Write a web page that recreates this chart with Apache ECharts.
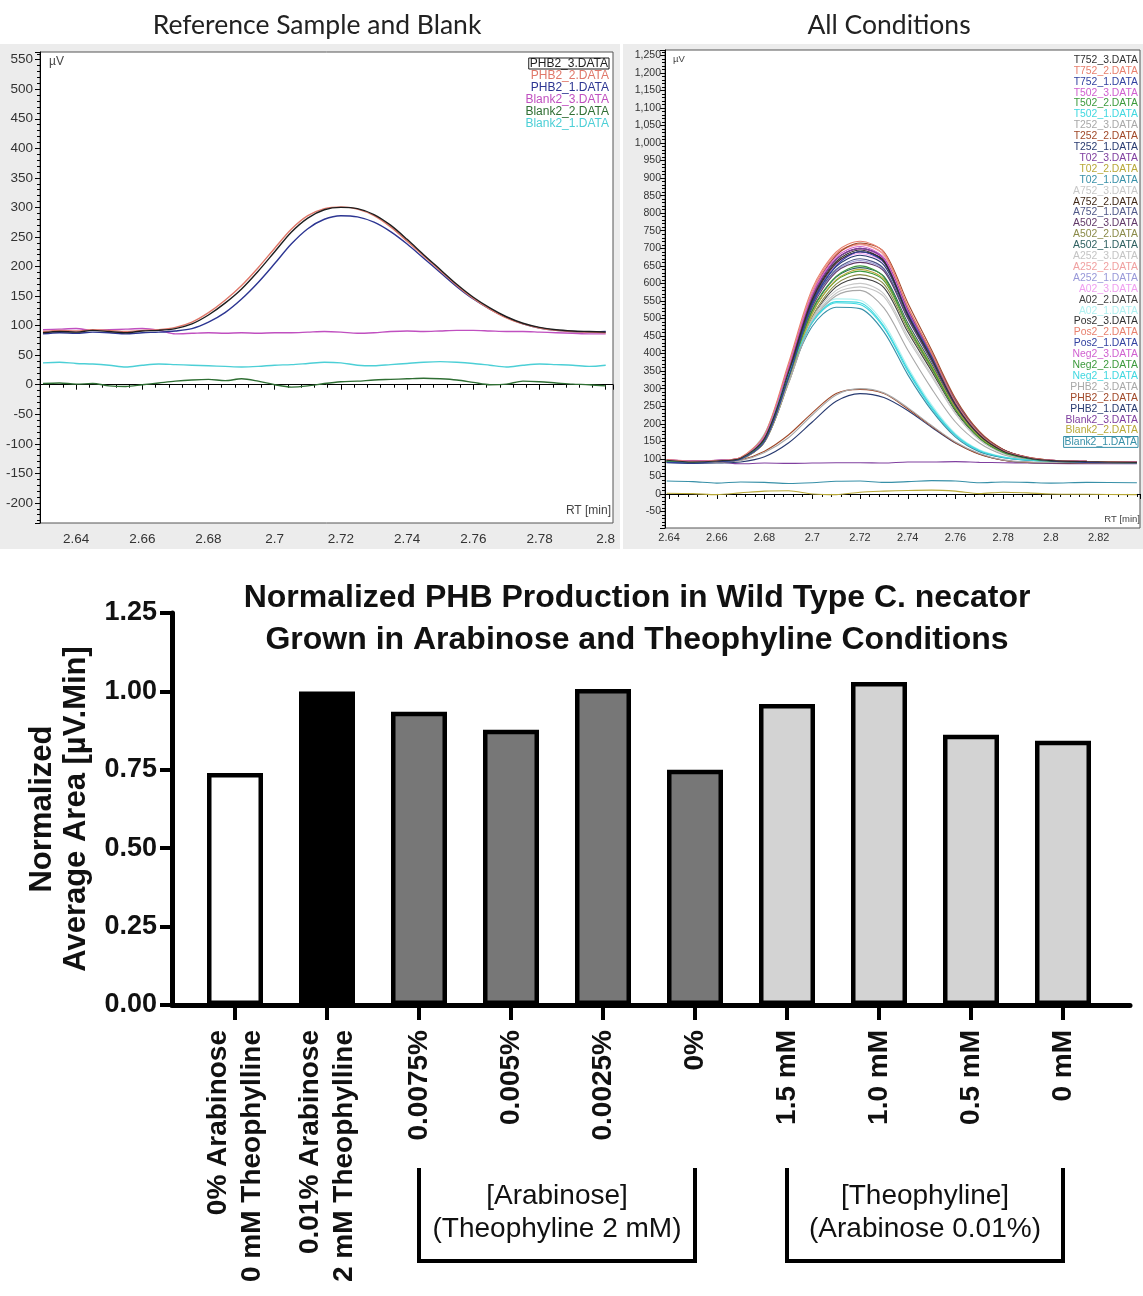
<!DOCTYPE html>
<html>
<head>
<meta charset="utf-8">
<title>PHB chromatograms and normalized production</title>
<script src="https://cdn.jsdelivr.net/npm/echarts@6.0.0/dist/echarts.min.js"></script>
<style>
  html, body { margin: 0; padding: 0; background: #fff; }
  #chart { width: 1143px; height: 1296px; }
</style>
</head>
<body>
<div id="chart"></div>
<script>
// [Top left] Reference Sample and Blank - retention time (min) and signal (µV)
const refRT = [2.630, 2.635, 2.640, 2.645, 2.650, 2.655, 2.660, 2.665, 2.670, 2.675, 2.680, 2.685,
  2.690, 2.695, 2.700, 2.705, 2.710, 2.715, 2.720, 2.725, 2.730, 2.735, 2.740, 2.745, 2.750, 2.755,
  2.760, 2.765, 2.770, 2.775, 2.780, 2.785, 2.790, 2.795, 2.800]
const refPHB2_3 = [88, 90, 89, 92, 90, 88, 91, 92, 95, 103, 118, 138, 162, 192, 225, 258, 282, 296, 300, 298, 288, 270, 246, 220, 195, 170, 148, 130, 115, 104, 97, 93, 91, 90, 89]
const refPHB2_2 = [90, 92, 91, 93, 92, 90, 92, 93, 97, 106, 122, 143, 168, 198, 231, 263, 286, 298, 301, 297, 286, 267, 243, 218, 193, 168, 146, 128, 113, 103, 96, 92, 90, 89, 88]
const refPHB2_1 = [86, 88, 87, 89, 88, 86, 88, 89, 91, 95, 106, 122, 145, 173, 205, 238, 264, 280, 286, 284, 275, 259, 238, 214, 190, 166, 145, 128, 114, 103, 96, 92, 90, 89, 90]
const refBlank2_3 = [93, 94, 95, 92, 93, 94, 95, 92, 86, 87, 88, 87, 88, 87, 88, 88, 89, 90, 89, 87, 88, 90, 91, 90, 91, 92, 92, 91, 90, 90, 89, 88, 87, 86, 86]
const refBlank2_2 = [2, 3, 1, 2, -2, -3, 0, 3, 6, 8, 9, 7, 10, 6, 0, -4, -2, 2, 5, 6, 8, 9, 10, 11, 10, 8, 4, 0, 1, 6, 5, 3, 1, 0, -2]
const refBlank2_1 = [37, 38, 36, 35, 33, 30, 33, 35, 34, 33, 32, 31, 30, 31, 33, 34, 36, 38, 37, 33, 32, 34, 36, 38, 39, 38, 36, 33, 30, 33, 35, 34, 33, 31, 33]
const refNames = ['PHB2_3.DATA', 'PHB2_2.DATA', 'PHB2_1.DATA', 'Blank2_3.DATA', 'Blank2_2.DATA', 'Blank2_1.DATA']
const refValues = [refPHB2_3, refPHB2_2, refPHB2_1, refBlank2_3, refBlank2_2, refBlank2_1]
const refColors = ['#1e1e1e', '#e0786a', '#2c3592', '#c050c0', '#2f6e33', '#4ccfd6']

// [Top right] All Conditions
const allRT = [2.639, 2.65, 2.66, 2.67, 2.68, 2.69, 2.70, 2.71, 2.72, 2.73, 2.74, 2.75, 2.76, 2.77, 2.78, 2.79, 2.80, 2.815, 2.836]
const T752_3 = [96, 91, 94, 102, 158, 345, 555, 662, 695, 662, 510, 385, 255, 168, 122, 103, 95, 92, 90]
const T752_2 = [98, 93, 95, 104, 170, 372, 585, 690, 720, 688, 535, 400, 262, 172, 124, 104, 96, 93, 91]
const T752_1 = [90, 88, 92, 99, 150, 330, 540, 650, 690, 660, 515, 392, 262, 172, 124, 103, 94, 90, 88]
const T502_3 = [97, 94, 96, 103, 165, 360, 570, 675, 705, 672, 520, 392, 258, 170, 123, 104, 96, 93, 92]
const T502_2 = [92, 90, 93, 100, 155, 330, 525, 620, 650, 618, 478, 360, 240, 160, 118, 101, 93, 91, 89]
const T502_1 = [94, 91, 95, 101, 168, 340, 490, 548, 545, 478, 355, 248, 168, 124, 105, 97, 94, 92, 90]
const T252_3 = [93, 90, 92, 99, 150, 320, 490, 565, 580, 530, 410, 300, 205, 145, 112, 99, 93, 91, 90]
const T252_2 = [95, 92, 95, 103, 162, 355, 568, 680, 715, 690, 545, 410, 272, 178, 127, 105, 96, 93, 91]
const T252_1 = [91, 89, 93, 100, 152, 335, 545, 648, 680, 652, 512, 390, 262, 172, 125, 104, 95, 92, 90]
const T02_3 = [97, 93, 96, 102, 160, 352, 562, 668, 700, 670, 525, 398, 265, 174, 126, 104, 96, 93, 91]
const T02_2 = [92, 90, 93, 99, 150, 322, 515, 610, 640, 612, 480, 365, 245, 163, 120, 102, 94, 91, 89]
const T02_1 = [93, 91, 94, 100, 165, 332, 478, 532, 528, 462, 340, 238, 162, 120, 103, 96, 93, 91, 90]
const A752_3 = [94, 91, 93, 99, 152, 318, 500, 580, 600, 570, 450, 340, 230, 155, 116, 100, 93, 91, 89]
const A752_2 = [95, 92, 94, 101, 158, 345, 552, 658, 690, 665, 520, 392, 260, 172, 124, 103, 95, 92, 90]
const A752_1 = [93, 90, 93, 100, 155, 338, 540, 640, 670, 642, 505, 382, 255, 168, 122, 102, 94, 91, 89]
const A502_3 = [94, 92, 94, 101, 156, 335, 532, 632, 660, 635, 500, 378, 252, 167, 122, 102, 94, 92, 90]
const A502_2 = [92, 90, 92, 99, 148, 318, 505, 598, 625, 598, 470, 356, 240, 160, 119, 101, 93, 91, 89]
const A502_1 = [93, 91, 93, 100, 152, 328, 522, 618, 645, 620, 488, 370, 248, 165, 121, 102, 94, 91, 90]
const A252_3 = [92, 90, 92, 99, 150, 315, 495, 572, 590, 562, 442, 335, 228, 154, 116, 100, 93, 91, 89]
const A252_2 = [96, 93, 95, 103, 166, 362, 575, 682, 710, 680, 530, 400, 265, 175, 126, 105, 96, 93, 91]
const A252_1 = [93, 91, 93, 100, 154, 336, 538, 636, 665, 638, 502, 380, 254, 168, 122, 102, 94, 91, 90]
const A02_3 = [95, 92, 94, 101, 160, 348, 555, 655, 685, 658, 515, 390, 260, 171, 124, 103, 95, 92, 90]
const A02_2 = [92, 90, 92, 99, 148, 315, 500, 590, 615, 588, 462, 350, 236, 158, 118, 101, 93, 91, 89]
const A02_1 = [94, 92, 95, 102, 172, 348, 500, 556, 552, 486, 362, 254, 172, 126, 106, 98, 94, 92, 90]
const Pos2_3 = [96, 93, 95, 102, 158, 348, 560, 668, 700, 672, 528, 400, 266, 175, 126, 104, 96, 93, 91]
const Pos2_2 = [97, 94, 96, 104, 168, 365, 578, 685, 712, 682, 532, 402, 266, 175, 126, 105, 96, 93, 91]
const Pos2_1 = [94, 91, 94, 101, 155, 340, 548, 655, 690, 664, 522, 395, 262, 173, 125, 104, 95, 92, 90]
const Neg2_3 = [96, 93, 95, 102, 162, 355, 565, 670, 698, 668, 522, 395, 262, 172, 125, 104, 95, 92, 91]
const Neg2_2 = [92, 90, 93, 100, 152, 325, 515, 608, 635, 608, 478, 362, 244, 162, 120, 102, 94, 91, 89]
const Neg2_1 = [93, 91, 94, 101, 170, 342, 488, 545, 540, 474, 350, 244, 166, 122, 104, 96, 93, 91, 89]
const PHB2_3 = [92, 90, 91, 95, 118, 160, 225, 282, 300, 288, 246, 195, 148, 115, 97, 91, 90, 89, 88]
const PHB2_2 = [94, 92, 92, 97, 122, 168, 231, 286, 298, 286, 243, 193, 146, 113, 96, 90, 89, 88, 88]
const PHB2_1 = [89, 87, 88, 91, 106, 145, 205, 264, 286, 275, 238, 190, 145, 114, 96, 90, 89, 88, 87]
const Blank2_3 = [93, 95, 92, 86, 88, 87, 88, 89, 89, 88, 91, 91, 92, 90, 89, 88, 87, 86, 86]
const Blank2_2 = [2, 1, -2, 3, 8, 9, 0, -2, 5, 8, 10, 11, 8, 1, 5, 3, 0, -1, -2]
const Blank2_1 = [37, 35, 31, 34, 33, 30, 32, 36, 37, 33, 35, 38, 37, 32, 34, 33, 31, 33, 32]
const allNames = ['T752_3.DATA', 'T752_2.DATA', 'T752_1.DATA', 'T502_3.DATA', 'T502_2.DATA', 'T502_1.DATA',
  'T252_3.DATA', 'T252_2.DATA', 'T252_1.DATA', 'T02_3.DATA', 'T02_2.DATA', 'T02_1.DATA',
  'A752_3.DATA', 'A752_2.DATA', 'A752_1.DATA', 'A502_3.DATA', 'A502_2.DATA', 'A502_1.DATA',
  'A252_3.DATA', 'A252_2.DATA', 'A252_1.DATA', 'A02_3.DATA', 'A02_2.DATA', 'A02_1.DATA',
  'Pos2_3.DATA', 'Pos2_2.DATA', 'Pos2_1.DATA', 'Neg2_3.DATA', 'Neg2_2.DATA', 'Neg2_1.DATA',
  'PHB2_3.DATA', 'PHB2_2.DATA', 'PHB2_1.DATA', 'Blank2_3.DATA', 'Blank2_2.DATA', 'Blank2_1.DATA']
const allValues = [T752_3, T752_2, T752_1, T502_3, T502_2, T502_1, T252_3, T252_2, T252_1, T02_3, T02_2, T02_1,
  A752_3, A752_2, A752_1, A502_3, A502_2, A502_1, A252_3, A252_2, A252_1, A02_3, A02_2, A02_1,
  Pos2_3, Pos2_2, Pos2_1, Neg2_3, Neg2_2, Neg2_1, PHB2_3, PHB2_2, PHB2_1, Blank2_3, Blank2_2, Blank2_1]

// Chromeleon style colour cycles
const cycleA = ['#303030', '#e8806e', '#3242a0', '#d060d0', '#3c9a3c', '#40d8e0', '#a8a8a8', '#a04828', '#283a70', '#8040a0', '#b8a838', '#3890a8']
const cycleB = ['#c8c8c8', '#402818', '#505888', '#603868', '#8a8a48', '#2e6060', '#c4c4c4', '#f0a0a0', '#9898d8', '#f0a0f0', '#404040', '#b0f0f0']
const allColors = [...cycleA, ...cycleB, ...cycleA]

// [Bottom] Normalized PHB production
const barCategories = ['0% Arabinose\n0 mM Theophylline', '0.01% Arabinose\n2 mM Theophylline', '0.0075%', '0.005%', '0.0025%', '0%', '1.5 mM', '1.0 mM', '0.5 mM', '0 mM']
const barValues = [0.74, 1.00, 0.935, 0.878, 1.008, 0.75, 0.96, 1.03, 0.862, 0.843]
const barFills = ['#ffffff', '#000000', '#777777', '#777777', '#777777', '#777777', '#d3d3d3', '#d3d3d3', '#d3d3d3', '#d3d3d3']
const yTicks = [0, 0.25, 0.5, 0.75, 1.0, 1.25]

const FONT = "'Liberation Sans', Arial, sans-serif"

const onStep = (v, step) => Math.abs(v / step - Math.round(v / step)) < 1e-6
const fmtRT = (v) => (onStep(v, 0.02) ? String(+v.toFixed(2)) : '')
const fmtUV = (v) => (onStep(v, 50) ? Math.round(v).toLocaleString('en-US') : '')

const chromAxis = (gridIndex, min, max, splitNumber, formatter, fontSize, margin) => ({
  type: 'value',
  gridIndex,
  min,
  max,
  splitNumber,
  axisLine: { lineStyle: { color: '#000', width: 1 } },
  axisTick: { length: 5, lineStyle: { color: '#000' } },
  minorTick: { show: true, splitNumber: 5, length: 3, lineStyle: { color: '#000' } },
  splitLine: { show: false },
  axisLabel: { formatter, fontSize, color: '#333', margin, fontFamily: FONT, showMinLabel: true, showMaxLabel: true },
})

const lineSeries = (name, xs, ys, color, axisIndex, width) => ({
  name,
  type: 'line',
  xAxisIndex: axisIndex,
  yAxisIndex: axisIndex,
  data: xs.map((x, i) => [x, ys[i]]),
  showSymbol: false,
  smooth: 0.3,
  lineStyle: { width, color },
  itemStyle: { color },
  emphasis: { disabled: true },
})

const refSeries = refNames.map((n, i) => lineSeries(n, refRT, refValues[i], refColors[i], 0, 1.4)).reverse()
const allSeries = allNames.map((n, i) => lineSeries(n, allRT, allValues[i], allColors[i], 1, 1.1)).reverse()

const legendItem = (name, color, boxed) => ({
  name,
  textStyle: boxed ? { color, borderColor: color, borderWidth: 1, padding: [0, 1, 0, 1] } : { color },
})

const chart = echarts.init(document.getElementById('chart'))

const option = {
  animation: false,
  backgroundColor: '#fff',
  title: [
    { text: 'Reference Sample and Blank', left: 317, top: 12, textAlign: 'center', padding: 0,
      textStyle: { fontFamily: 'Lato, sans-serif', fontSize: 26.5, fontWeight: 'normal', color: '#222' } },
    { text: 'All Conditions', left: 889, top: 12, textAlign: 'center', padding: 0,
      textStyle: { fontFamily: 'Lato, sans-serif', fontSize: 26.5, fontWeight: 'normal', color: '#222' } },
    { text: 'Normalized PHB Production in Wild Type C. necator\nGrown in Arabinose and Theophyline Conditions',
      left: 637, top: 577, textAlign: 'center', padding: 0,
      textStyle: { fontFamily: FONT, fontSize: 32, fontWeight: 'bold', color: '#111', lineHeight: 42 } },
  ],
  legend: [
    {
      orient: 'vertical', right: 529, top: 57.5, padding: 0, align: 'right', icon: 'none',
      itemWidth: 0, itemHeight: 8, itemGap: 0, selectedMode: false,
      textStyle: { fontFamily: FONT, fontSize: 12, lineHeight: 11 },
      data: refNames.map((n, i) => legendItem(n, refColors[i], i === 0)),
    },
    {
      orient: 'vertical', right: 0, top: 54.5, padding: 0, align: 'right', icon: 'none',
      itemWidth: 0, itemHeight: 8, itemGap: 0, selectedMode: false,
      textStyle: { fontFamily: FONT, fontSize: 10.4, lineHeight: 10.9 },
      data: allNames.map((n, i) => legendItem(n, allColors[i], i === allNames.length - 1)),
    },
  ],
  grid: [
    { left: 40, top: 52, right: 530, bottom: 773, show: true, backgroundColor: '#fff', borderColor: '#555', borderWidth: 1 },
    { left: 665, top: 50, right: 2, bottom: 768, show: true, backgroundColor: '#fff', borderColor: '#555', borderWidth: 1 },
    { left: 189, right: 34, top: 613, bottom: 291 },
    { left: 172, right: 13, top: 613, bottom: 291 },
  ],
  xAxis: [
    chromAxis(0, 2.6291, 2.8022, 8, fmtRT, 13.5, 9),
    chromAxis(1, 2.6383, 2.8373, 10, fmtRT, 11, 4),
    {
      type: 'category', gridIndex: 2, data: barCategories,
      axisLine: { show: false },
      axisTick: { show: true, alignWithLabel: true, length: 15, lineStyle: { color: '#000', width: 4 } },
      axisLabel: { interval: 0, rotate: 90, margin: 25, fontFamily: FONT, fontSize: 28, fontWeight: 'bold', lineHeight: 34, color: '#111' },
    },
    {
      type: 'value', gridIndex: 3, min: 0, max: 1,
      axisLine: { show: true, lineStyle: { color: '#000', width: 5 } },
      axisTick: { show: false }, axisLabel: { show: false }, splitLine: { show: false },
    },
  ],
  yAxis: [
    chromAxis(0, -234, 563, 15, fmtUV, 13.5, 7),
    chromAxis(1, -97, 1265, 26, fmtUV, 10.5, 4),
    { type: 'value', gridIndex: 2, min: 0, max: 1.25, show: false },
    {
      type: 'value', gridIndex: 3, min: 0, max: 1.25, interval: 0.25,
      name: 'Normalized\nAverage Area [µV.Min]', nameLocation: 'middle', nameGap: 70, nameRotate: 90,
      nameTextStyle: { fontFamily: FONT, fontSize: 31, fontWeight: 'bold', lineHeight: 34, color: '#111' },
      axisLine: { show: true, lineStyle: { color: '#000', width: 5 } },
      axisTick: { show: true, length: 12, lineStyle: { color: '#000', width: 4 } },
      axisLabel: { formatter: (v) => (yTicks.includes(+v.toFixed(2)) ? v.toFixed(2) : ''), margin: 15,
        fontFamily: FONT, fontSize: 27, fontWeight: 'bold', color: '#111' },
      splitLine: { show: false },
    },
  ],
  series: [
    ...refSeries,
    ...allSeries,
    {
      type: 'bar', xAxisIndex: 2, yAxisIndex: 2, barWidth: 56,
      data: barValues.map((v, i) => ({ value: v, itemStyle: { color: barFills[i] } })),
      itemStyle: { borderColor: '#000', borderWidth: 4.5 },
      emphasis: { disabled: true },
    },
  ],
}

chart.setOption(option)

// brackets under the grouped categories, placed from the category axis
const bracketGroups = [
  { from: '0.0075%', to: '0%', lines: '[Arabinose]\n(Theophyline 2 mM)' },
  { from: '1.5 mM', to: '0 mM', lines: '[Theophyline]\n(Arabinose 0.01%)' },
]
const bracketTop = 1168
const bracketBottom = 1261

const graphics = [
  { type: 'rect', z: -10, shape: { x: 0, y: 44, width: 620, height: 505 }, style: { fill: '#ececec' } },
  { type: 'rect', z: -10, shape: { x: 623, y: 44, width: 520, height: 505 }, style: { fill: '#ececec' } },
  { type: 'text', left: 49, top: 56, style: { text: 'µV', fontFamily: FONT, fontSize: 12, fill: '#444' } },
  { type: 'text', left: 673, top: 54, style: { text: 'µV', fontFamily: FONT, fontSize: 9.5, fill: '#444' } },
  { type: 'text', right: 1143 - 611, top: 505, style: { text: 'RT [min]', fontFamily: FONT, fontSize: 12, fill: '#444' } },
  { type: 'text', right: 3, top: 514, style: { text: 'RT [min]', fontFamily: FONT, fontSize: 9.5, fill: '#444' } },
]

bracketGroups.forEach((g) => {
  const x1 = chart.convertToPixel({ xAxisIndex: 2 }, g.from)
  const x2 = chart.convertToPixel({ xAxisIndex: 2 }, g.to)
  graphics.push({
    type: 'polyline',
    shape: { points: [[x1, bracketTop], [x1, bracketBottom], [x2, bracketBottom], [x2, bracketTop]] },
    style: { stroke: '#000', lineWidth: 4, fill: null },
  })
  graphics.push({
    type: 'text',
    x: (x1 + x2) / 2,
    y: 1180,
    style: { text: g.lines, fontFamily: FONT, fontSize: 28, lineHeight: 33, fill: '#111', align: 'center', verticalAlign: 'top' },
  })
})

chart.setOption({ graphic: graphics })
</script>
</body>
</html>
